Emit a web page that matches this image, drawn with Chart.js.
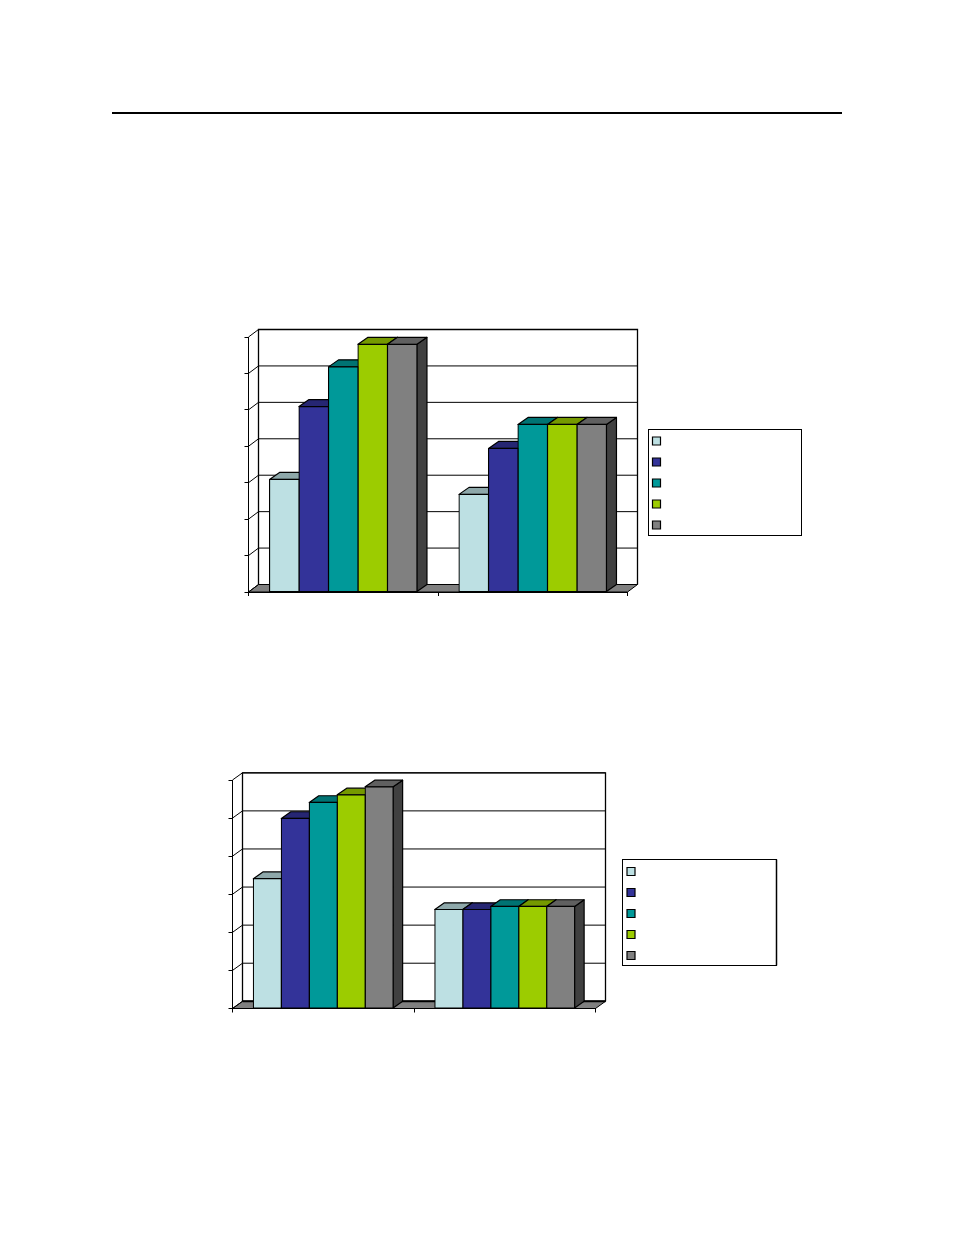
<!DOCTYPE html>
<html>
<head>
<meta charset="utf-8">
<style>
html,body{margin:0;padding:0;background:#fff;width:954px;height:1235px;overflow:hidden}
canvas{position:absolute;display:block}
#rule{position:absolute;left:112px;top:112px;width:730px;height:2px;background:#000}
</style>
<script src="https://cdn.jsdelivr.net/npm/chart.js@4/dist/chart.umd.min.js"></script>
</head>
<body>
<div id="rule"></div>
<canvas id="c1" style="left:200px;top:310px"></canvas>
<canvas id="c2" style="left:200px;top:750px"></canvas>
<script>
const categories = ['', ''];
const seriesColors = ['#BDE0E3', '#333399', '#009999', '#9CCC00', '#808080'];

const top1 = [3.09, 2.68];
const top2 = [5.09, 3.94];
const top3 = [6.18, 4.60];
const top4 = [6.80, 4.60];
const top5 = [6.80, 4.60];

const bottom1 = [3.41, 2.60];
const bottom2 = [4.99, 2.60];
const bottom3 = [5.41, 2.68];
const bottom4 = [5.61, 2.68];
const bottom5 = [5.82, 2.68];

function shade(hex, f) {
  const n = parseInt(hex.slice(1), 16);
  const c = s => Math.round(((n >> s) & 255) * f);
  return `rgb(${c(16)},${c(8)},${c(0)})`;
}

const box3d = {
  id: 'box3d',
  beforeDraw(chart, args, o) {
    const { ctx } = chart, x = chart.scales.x, y = chart.scales.y;
    const L = x.left, R = x.right, B = y.getPixelForValue(y.min), T = y.getPixelForValue(y.max);
    const d = o.dx, e = o.dy;
    ctx.save();
    ctx.strokeStyle = '#000';
    ctx.lineWidth = 1;
    // floor
    ctx.fillStyle = '#808080';
    ctx.beginPath();
    ctx.moveTo(L, B); ctx.lineTo(L + d, B - e); ctx.lineTo(R + d, B - e); ctx.lineTo(R, B); ctx.closePath();
    ctx.fill(); ctx.stroke();
    // gridlines on side and back wall
    y.ticks.forEach(t => {
      const p = y.getPixelForValue(t.value);
      ctx.beginPath();
      ctx.moveTo(L, p); ctx.lineTo(L + d, p - e); ctx.lineTo(R + d, p - e);
      ctx.stroke();
    });
    // back wall edges
    ctx.lineWidth = 1.3;
    ctx.beginPath();
    ctx.moveTo(L + d, B - e); ctx.lineTo(L + d, T - e); ctx.lineTo(R + d, T - e); ctx.lineTo(R + d, B - e);
    ctx.stroke();
    if (o.floorEdge) {
      ctx.lineWidth = o.floorEdge;
      ctx.beginPath();
      ctx.moveTo(L + d, B - e); ctx.lineTo(R + d, B - e);
      ctx.stroke();
    }
    ctx.restore();
  },
  beforeDatasetsDraw(chart, args, o) {
    const { ctx } = chart, d = o.barDx, e = o.barDy;
    ctx.save();
    ctx.strokeStyle = '#000';
    ctx.lineWidth = 1.2;
    ctx.lineJoin = 'round';
    chart.data.datasets.forEach((ds, i) => {
      chart.getDatasetMeta(i).data.forEach(el => {
        const p = el.getProps(['x', 'y', 'base', 'width']);
        const l = p.x - p.width / 2, r = p.x + p.width / 2;
        ctx.fillStyle = shade(ds.backgroundColor, 0.5);
        ctx.beginPath();
        ctx.moveTo(r, p.base); ctx.lineTo(r + d, p.base - e); ctx.lineTo(r + d, p.y - e); ctx.lineTo(r, p.y); ctx.closePath();
        ctx.fill(); ctx.stroke();
        ctx.fillStyle = shade(ds.backgroundColor, 0.75);
        ctx.beginPath();
        ctx.moveTo(l, p.y); ctx.lineTo(l + d, p.y - e); ctx.lineTo(r + d, p.y - e); ctx.lineTo(r, p.y); ctx.closePath();
        ctx.fill(); ctx.stroke();
      });
    });
    ctx.restore();
  },
  afterLayout(chart, args, o) {
    const lg = chart.legend, pad = chart.options.plugins.legend.labels.padding;
    lg.left = o.swatchX - pad;
    lg.top = o.swatchY - pad;
    lg.right = o.boxX + o.boxW;
    lg.bottom = o.boxY + o.boxH + pad + 8;
    lg.width = lg.right - lg.left;
    lg.height = lg.bottom - lg.top;
  },
  afterDraw(chart, args, o) {
    const { ctx } = chart;
    ctx.save();
    ctx.strokeStyle = '#000';
    ctx.lineWidth = 1;
    ctx.strokeRect(o.boxX, o.boxY, o.boxW, o.boxH);
    if (o.heavy) {
      ctx.lineWidth = 1.5;
      ctx.beginPath();
      ctx.moveTo(o.boxX + o.boxW, o.boxY);
      ctx.lineTo(o.boxX + o.boxW, o.boxY + o.boxH);
      ctx.stroke();
    }
    ctx.restore();
  }
};

function make(id, w, h, series, yMax, catPct, padding, deco) {
  return new Chart(document.getElementById(id), {
    type: 'bar',
    plugins: [box3d],
    data: {
      labels: categories,
      datasets: series.map((values, i) => ({
        label: '',
        data: values,
        backgroundColor: seriesColors[i],
        borderColor: '#000',
        borderWidth: 1.2,
        borderSkipped: false,
        inflateAmount: 0.6,
        categoryPercentage: catPct,
        barPercentage: 1
      }))
    },
    options: {
      responsive: false,
      animation: false,
      devicePixelRatio: 1,
      layout: { padding },
      plugins: {
        tooltip: { enabled: false },
        title: { display: false },
        legend: {
          display: true,
          position: 'chartArea',
          align: 'start',
          labels: {
            boxWidth: 8,
            boxHeight: 8,
            padding: 13,
            font: { size: 8 },
            color: '#000'
          }
        },
        box3d: deco
      },
      scales: {
        x: {
          offset: true,
          border: { display: true, color: '#000', width: 1 },
          grid: { display: true, offset: true, drawOnChartArea: false, drawTicks: true, tickLength: 4, tickColor: '#000', color: '#000' },
          ticks: { display: false }
        },
        y: {
          min: 0,
          max: yMax,
          border: { display: true, color: '#000', width: 1 },
          grid: { display: true, drawOnChartArea: false, drawTicks: true, tickLength: 4, tickColor: '#000', color: '#000' },
          ticks: { display: false, stepSize: 1 }
        }
      }
    },
  });
}

const c1 = document.getElementById('c1'); c1.width = 620; c1.height = 300;
const c2 = document.getElementById('c2'); c2.width = 620; c2.height = 290;

make('c1', 620, 300, [top1, top2, top3, top4, top5], 7, 0.778,
  { left: 44.5, top: 27, right: 192.5, bottom: 14 },
  { dx: 10, dy: 7.5, barDx: 10, barDy: 7, boxX: 448.5, boxY: 119.5, boxW: 153, boxH: 106, swatchX: 452.5, swatchY: 127, heavy: false });

make('c2', 620, 290, [bottom1, bottom2, bottom3, bottom4, bottom5], 6, 0.77,
  { left: 28.5, top: 30, right: 224.5, bottom: 27.5 },
  { dx: 10, dy: 7.2, barDx: 9.5, barDy: 6.7, floorEdge: 2, boxX: 422.5, boxY: 109.5, boxW: 154, boxH: 106, swatchX: 427, swatchY: 117.5, heavy: true });
</script>
</body>
</html>
